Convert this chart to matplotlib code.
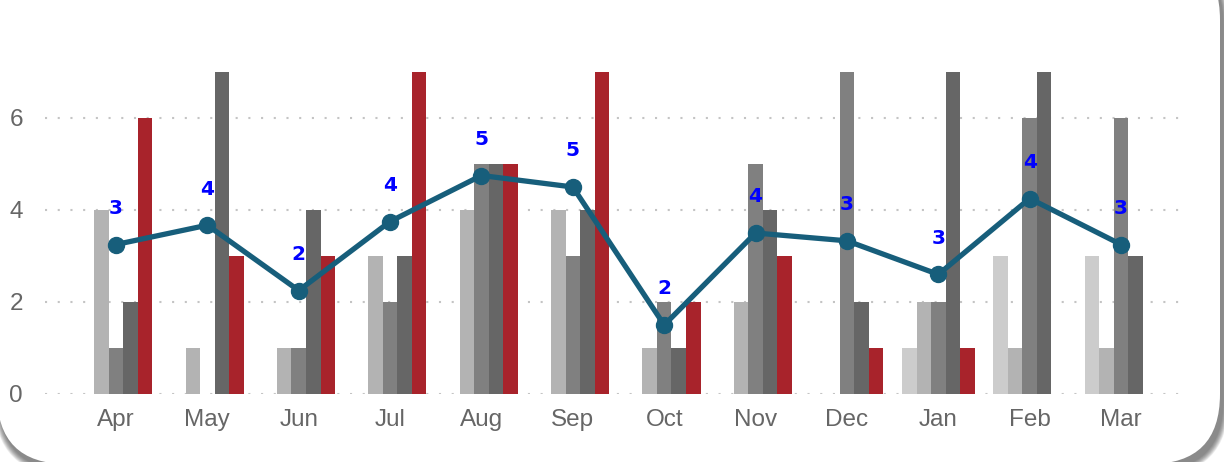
import matplotlib
matplotlib.use("Agg")
import matplotlib.pyplot as plt
from matplotlib.patches import FancyBboxPatch
import numpy as np

months = ["Apr", "May", "Jun", "Jul", "Aug", "Sep", "Oct", "Nov", "Dec", "Jan", "Feb", "Mar"]
s_vlight = [0, 0, 0, 0, 0, 0, 0, 0, 0, 1, 3, 3]
s_light = [4, 1, 1, 3, 4, 4, 1, 2, 0, 2, 1, 1]
s_mid = [1, 0, 1, 2, 5, 3, 2, 5, 7, 2, 6, 6]
s_dark = [2, 7, 4, 3, 5, 4, 1, 4, 2, 7, 7, 3]
s_red = [6, 3, 3, 7, 5, 7, 2, 3, 1, 1, 0, 0]
line_vals = [3.25, 3.67, 2.25, 3.75, 4.75, 4.5, 1.5, 3.5, 3.33, 2.6, 4.25, 3.25]
line_labels = ["3", "4", "2", "4", "5", "5", "2", "4", "3", "3", "4", "3"]
yticks = [0, 2, 4, 6]

series = [s_vlight, s_light, s_mid, s_dark, s_red]
colors = ["#cccccc", "#b3b3b3", "#808080", "#666666", "#a8232b"]

W, H = 1224, 462
fig = plt.figure(figsize=(W / 100, H / 100), dpi=100)
fig.patch.set_facecolor("white")

# background card with shadow
bg = fig.add_axes([0, 0, 1, 1], zorder=-5)
bg.set_xlim(0, W)
bg.set_ylim(H, 0)
bg.axis("off")
cx, cy, cw, ch = -3, -50, 1223, 514
for i in range(12, 0, -1):
    sh = FancyBboxPatch((cx + 3 - i * 0.5, cy + 6 - i * 0.5), cw + i, ch + i,
                        boxstyle="round,pad=0,rounding_size=%g" % (70 + i * 0.5),
                        fc="#444444", ec="none", alpha=0.075)
    bg.add_patch(sh)
card = FancyBboxPatch((cx, cy), cw, ch, boxstyle="round,pad=0,rounding_size=70",
                      fc="white", ec="none")
bg.add_patch(card)

ax = fig.add_axes([45 / W, (H - 394) / H, (1185 - 45) / W, (394 - 72) / H])
ax.set_facecolor("none")
x = np.arange(len(months))
bw = 0.159
for i, (vals, c) in enumerate(zip(series, colors)):
    ax.bar(x + (i - 2) * bw, vals, width=bw, color=c, zorder=2, linewidth=0)

ax.plot(x, line_vals, color="#175e7b", lw=3.8, marker="o", ms=11.5, zorder=4,
        clip_on=False)
for xi, yv, lab in zip(x, line_vals, line_labels):
    ax.annotate(lab, (xi, yv), xytext=(0, 26), textcoords="offset points",
                ha="center", va="center", color="#0000ff", fontsize=14.5,
                fontweight="bold", family="DejaVu Sans", zorder=5)

ax.set_xlim(-0.777, 11.70)
ax.set_ylim(0, 7)
ax.set_yticks(yticks)
ax.set_xticks(x)
ax.set_xticklabels(months)
for sp in ax.spines.values():
    sp.set_visible(False)
ax.tick_params(axis="both", length=0, labelsize=17.5, labelcolor="#666666")
ax.tick_params(axis="y", pad=16)
ax.tick_params(axis="x", pad=10.5)
for lbl in ax.get_xticklabels() + ax.get_yticklabels():
    lbl.set_family("Liberation Sans")
ax.grid(axis="y", color="#c4c4c4", lw=1.5, linestyle=(0, (1, 5.1)), zorder=1)
ax.grid(axis="x", visible=False)
ax.set_axisbelow(True)

fig.savefig("out.png", dpi=100, facecolor="white")
